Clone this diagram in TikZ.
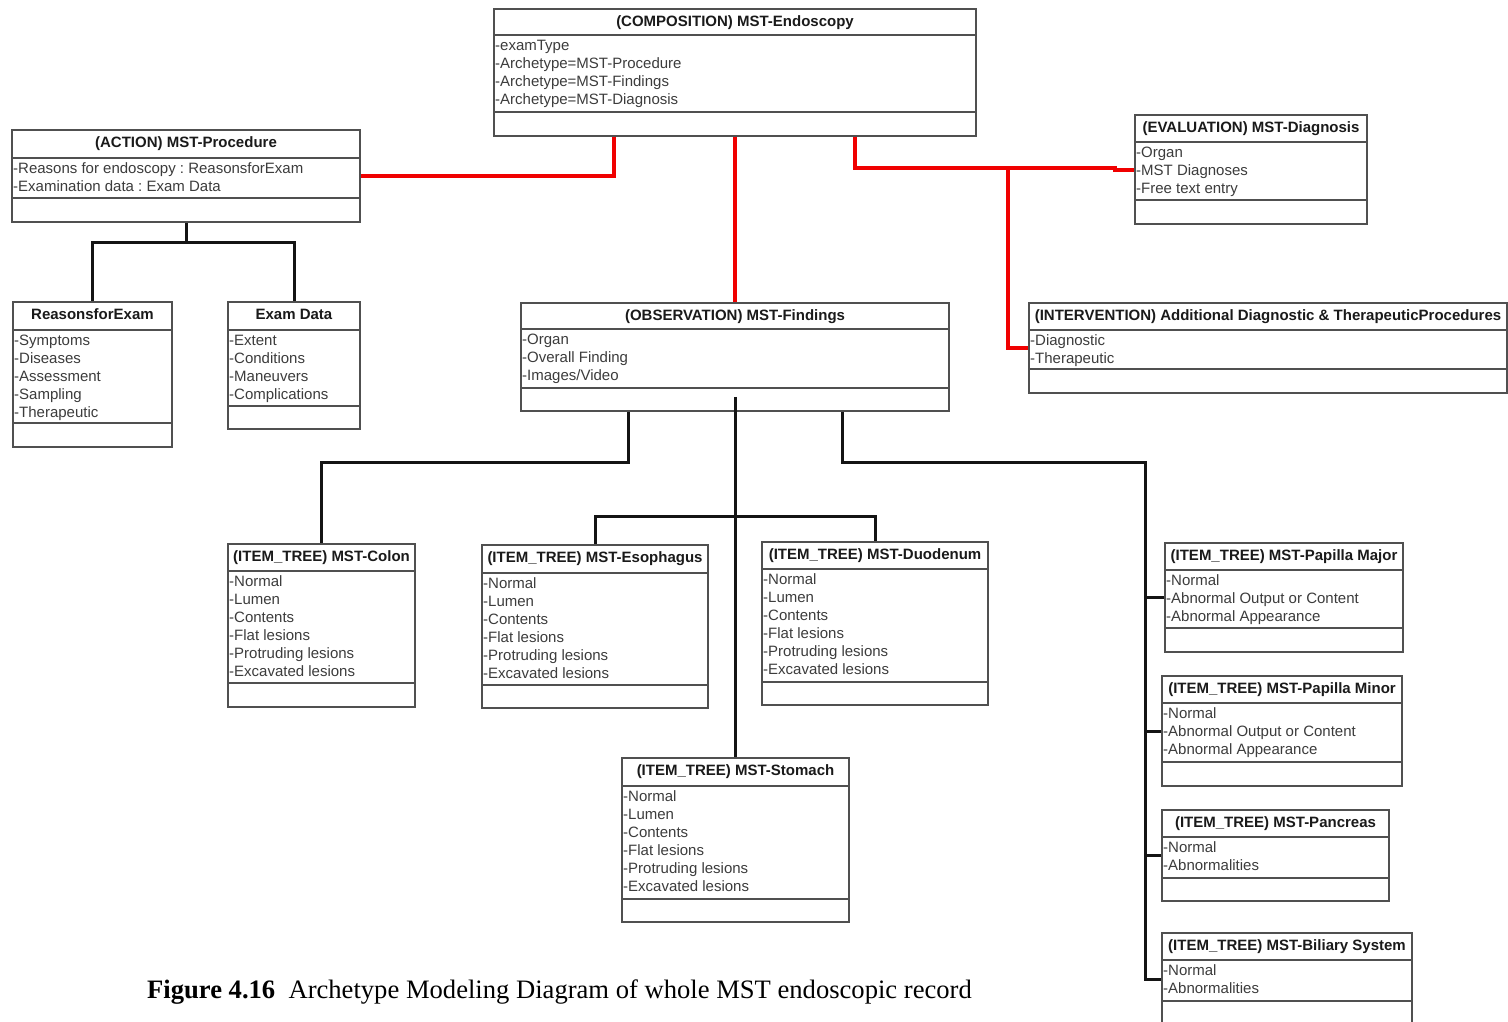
\documentclass[tikz,border=0pt]{standalone}
\usepackage{fontspec}
\setmainfont{Liberation Sans}
\newfontfamily\captionserif{Liberation Serif}
\usetikzlibrary{calc}
\frenchspacing

\definecolor{boxline}{HTML}{505050}
\definecolor{attrtext}{HTML}{3C3C3C}
\definecolor{titletext}{HTML}{1A1A1A}
\definecolor{linkred}{HTML}{F00000}

\tikzset{
  classbox/.style={draw=boxline, line width=1.8pt, rectangle, inner sep=0pt, fill=white},
  classrule/.style={draw=boxline, line width=1.8pt},
  classtitle/.style={anchor=base, inner sep=0pt, text=titletext,
    font=\fontsize{15}{18}\selectfont\bfseries},
  classattr/.style={anchor=base west, inner sep=0pt, text=attrtext,
    font=\fontsize{15}{18}\selectfont},
  blackconn/.style={draw=black!92, line width=3pt},
  redconn/.style={draw=linkred, line width=3.4pt},
}

% UML-style class box:
% #1 name, #2 left, #3 top, #4 right, #5 bottom, #6 title rule, #7 attribute rule,
% #8 title, #9 attribute list
\newcommand{\umlclass}[9]{%
  \node[classbox, minimum width={#4-#2}, minimum height={#5-#3}] (#1)
    at ({(#2+#4)/2},{(#3+#5)/2}) {};
  \draw[classrule] (#2,#6) -- (#4,#6);
  \draw[classrule] (#2,#7) -- (#4,#7);
  \node[classtitle] (#1-title) at ({(#2+#4)/2},{#3+17.5}) {#8};
  \foreach \txt [count=\k] in {#9} {
    \node[classattr] (#1-attr\k) at ({#2+1},{#6+15+18*(\k-1)}) {-\txt};
  }%
}

\begin{document}
\begin{tikzpicture}[x=1pt, y=-1pt]
\useasboundingbox (0,0) rectangle (1508,1021);

% ---- classes ----
\umlclass{comp}{494}{9}{976}{136}{35}{112}{(COMPOSITION) MST-Endoscopy}
  {examType,Archetype=MST-Procedure,Archetype=MST-Findings,Archetype=MST-Diagnosis}
\umlclass{proc}{12}{130}{360}{222}{158}{198}{(ACTION) MST-Procedure}
  {Reasons for endoscopy : ReasonsforExam,Examination data : Exam Data}
\umlclass{reason}{13}{302}{172}{447}{330}{423}{ReasonsforExam}
  {Symptoms,Diseases,Assessment,Sampling,Therapeutic}
\umlclass{exam}{228}{302}{360}{429}{330}{406}{Exam Data}
  {Extent,Conditions,Maneuvers,Complications}
\umlclass{diag}{1135}{115}{1367}{224}{142}{200}{(EVALUATION) MST-Diagnosis}
  {Organ,MST Diagnoses,Free text entry}
\umlclass{interv}{1029}{303}{1507}{393}{330}{369}
  {(INTERVENTION) Additional Diagnostic \& TherapeuticProcedures}
  {Diagnostic,Therapeutic}
\umlclass{find}{521}{303}{949}{411}{329}{388}{(OBSERVATION) MST-Findings}
  {Organ,Overall Finding,Images/Video}
\umlclass{colon}{228}{544}{415}{707}{571}{683}{(ITEM\_TREE) MST-Colon}
  {Normal,Lumen,Contents,Flat lesions,Protruding lesions,Excavated lesions}
\umlclass{eso}{482}{545}{708}{708}{573}{685}{(ITEM\_TREE) MST-Esophagus}
  {Normal,Lumen,Contents,Flat lesions,Protruding lesions,Excavated lesions}
\umlclass{duo}{762}{542}{988}{705}{569}{682}{(ITEM\_TREE) MST-Duodenum}
  {Normal,Lumen,Contents,Flat lesions,Protruding lesions,Excavated lesions}
\umlclass{stom}{622}{758}{849}{922}{786}{899}{(ITEM\_TREE) MST-Stomach}
  {Normal,Lumen,Contents,Flat lesions,Protruding lesions,Excavated lesions}
\umlclass{pmaj}{1165}{543}{1403}{652}{570}{628}{(ITEM\_TREE) MST-Papilla Major}
  {Normal,Abnormal Output or Content,Abnormal Appearance}
\umlclass{pmin}{1162}{676}{1402}{786}{703}{762}{(ITEM\_TREE) MST-Papilla Minor}
  {Normal,Abnormal Output or Content,Abnormal Appearance}
\umlclass{panc}{1162}{810}{1389}{901}{837}{878}{(ITEM\_TREE) MST-Pancreas}
  {Normal,Abnormalities}
\umlclass{bil}{1162}{933}{1412}{1025}{960}{1001}{(ITEM\_TREE) MST-Biliary System}
  {Normal,Abnormalities}

% ---- composition links (red) ----
\draw[redconn] ([xshift=-121pt]comp.south) |- (proc.east);
\draw[redconn] (comp.south) -- (find.north);
\coordinate (diagbend) at (1115,168);
\draw[redconn] ([xshift=120pt]comp.south) |- (diagbend) -- ++(0,2) -- (diag.west |- 0,170);
\coordinate (diagjoin) at (1008,168);
\draw[redconn] (diagjoin) |- (interv.west);

% ---- procedure tree ----
\coordinate (procjoin) at ([yshift=-20pt]proc.south);
\draw[blackconn] (proc.south) -- (procjoin);
\draw[blackconn] (reason.north) |- (procjoin) -| (exam.north);

% ---- findings tree ----
\draw[blackconn] ([xshift=-107pt]find.south) -- ++(0,51) -| (colon.north);
\coordinate (midjoin) at (find.south |- 0,516);
\draw[blackconn] ([yshift=15pt]find.south) -- (find.south |- stom.north);
\draw[blackconn] (eso.north) |- (midjoin) -| (duo.north);

\coordinate (trunk) at (1145,462);
\draw[blackconn] ([xshift=107pt]find.south) |- (trunk) -- (trunk |- bil.west) -- (bil.west);
\draw[blackconn] (trunk |- pmaj.west) -- (pmaj.west);
\draw[blackconn] (trunk |- pmin.west) -- (pmin.west);
\draw[blackconn] (trunk |- panc.west) -- (panc.west);

% ---- caption ----
\node[anchor=base west, inner sep=0pt, font=\captionserif\fontsize{26.6}{30}\selectfont]
  (caption) at (147,998)
  {\textbf{Figure 4.16}\hspace{0.5em}Archetype Modeling Diagram of whole MST endoscopic record};
\end{tikzpicture}
\end{document}
